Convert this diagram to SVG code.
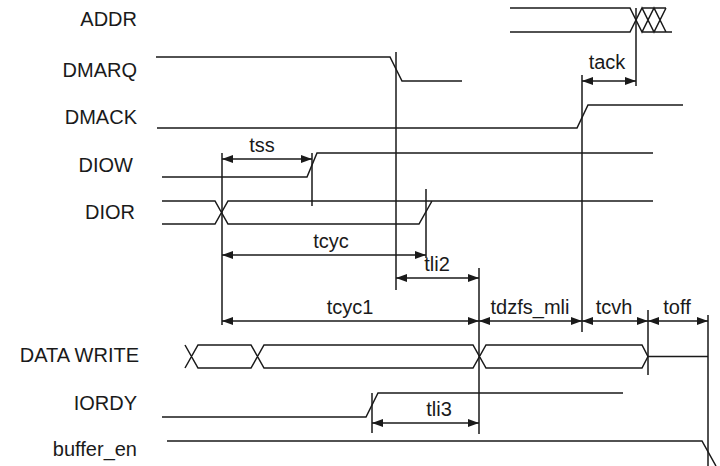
<svg xmlns="http://www.w3.org/2000/svg" width="720" height="466" viewBox="0 0 720 466">
<style>
  .sig { fill: none; stroke: #1a1a1a; stroke-width: 1.5; stroke-linejoin: miter; }
  .ref { fill: none; stroke: #1a1a1a; stroke-width: 1.5; }
  .dim { fill: none; stroke: #1a1a1a; stroke-width: 1.5; marker-start: url(#ah); marker-end: url(#ah); }
  .lbl { font-family: "Liberation Sans", Arial, sans-serif; font-size: 20px; fill: #1a1a1a; text-anchor: end; }
  .t { font-family: "Liberation Sans", Arial, sans-serif; font-size: 20px; fill: #1a1a1a; text-anchor: middle; }
</style>
<defs>
  <marker id="ah" viewBox="0 0 11 8" refX="11" refY="4" markerWidth="11" markerHeight="8" markerUnits="userSpaceOnUse" orient="auto-start-reverse">
    <path d="M0,0 L11,4 L0,8 z" fill="#1a1a1a"/>
  </marker>
</defs>
<rect width="720" height="466" fill="#ffffff"/>

<g id="ADDR">
  <text class="lbl" x="137" y="26">ADDR</text>
  <path class="sig" d="M510,8 H630 L642,32 L654,8 L666,32 M510,32 H630 L642,8 L654,32 L666,8 M642,8 H666 M642,32 H672"/>
</g>
<g id="DMARQ">
  <text class="lbl" x="137" y="77">DMARQ</text>
  <path class="sig" d="M156,57 H390 L402,81 H462"/>
</g>
<g id="DMACK">
  <text class="lbl" x="137" y="124">DMACK</text>
  <path class="sig" d="M157,128 H577 L588,105 H683"/>
</g>
<g id="DIOW">
  <text class="lbl" x="133" y="172">DIOW</text>
  <path class="sig" d="M162,177 H307 L317,153 H653"/>
</g>
<g id="DIOR">
  <text class="lbl" x="135" y="219">DIOR</text>
  <path class="sig" d="M162,201 H215 L228,224 H419 L432,201 M162,224 H215 L228,201 H653"/>
</g>
<g id="DATA_WRITE">
  <text class="lbl" x="139" y="362">DATA WRITE</text>
  <path class="sig" d="M185,345 L198,368 H251 L264,345 H473 L486,368 H642 L648,356.5 M185,368 L198,345 H251 L264,368 H473 L486,345 H642 L648,356.5 H708"/>
</g>
<g id="IORDY">
  <text class="lbl" x="137" y="410">IORDY</text>
  <path class="sig" d="M162,417 H366 L378,393 H623"/>
</g>
<g id="buffer_en">
  <text class="lbl" x="137" y="456">buffer_en</text>
  <path class="sig" d="M167,441 H702 L716,466"/>
</g>

<g id="connectors">
  <path class="ref" d="M222,153 V325 M312,153 V206 M396,52 V290 M426,189 V258 M479,268 V434 M582,75 V332 M636,8 V86 M648,310 V375 M708,315 V466 M372,393 V433"/>
  <path class="dim" d="M222,159 H312"/>
  <path class="dim" d="M222,255 H426"/>
  <path class="dim" d="M396,278 H479"/>
  <path class="dim" d="M222,321 H479"/>
  <path class="dim" d="M479,321 H582"/>
  <path class="dim" d="M582,321 H648"/>
  <path class="dim" d="M648,321 H708"/>
  <path class="dim" d="M582,81 H636"/>
  <path class="dim" d="M372,423 H479"/>
  <text class="t" x="262" y="152">tss</text>
  <text class="t" x="331" y="248">tcyc</text>
  <text class="t" x="437" y="271">tli2</text>
  <text class="t" x="350" y="314">tcyc1</text>
  <text class="t" x="530" y="314">tdzfs_mli</text>
  <text class="t" x="614" y="314">tcvh</text>
  <text class="t" x="677" y="314">toff</text>
  <text class="t" x="607" y="69">tack</text>
  <text class="t" x="439" y="416">tli3</text>
</g>
</svg>
